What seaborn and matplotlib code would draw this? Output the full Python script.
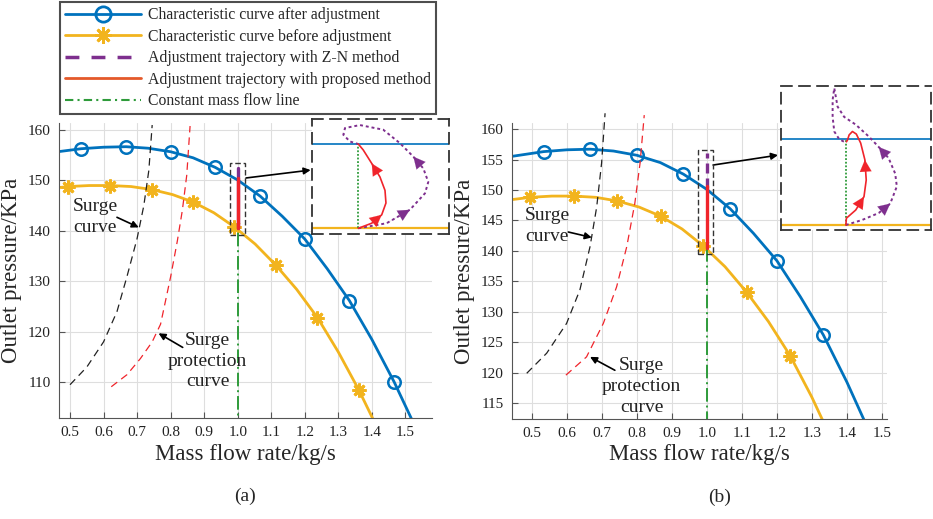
import matplotlib.pyplot as plt
import seaborn as sns
from matplotlib.lines import Line2D
from matplotlib.patches import Rectangle

# Characteristic curves (same in both panels)
flow_after = [0.440, 0.533, 0.600, 0.667, 0.733, 0.800, 0.867, 0.933, 1.000, 1.067, 1.133, 1.200, 1.267, 1.333, 1.400, 1.467, 1.520]
pres_after = [155.5, 156.3, 156.6, 156.7, 156.4, 155.7, 154.5, 152.6, 150.1, 146.9, 142.9, 138.4, 132.5, 126.2, 118.5, 110.0, 102.5]
flow_before = [0.440, 0.495, 0.557, 0.620, 0.682, 0.744, 0.806, 0.868, 0.929, 0.990, 1.052, 1.114, 1.176, 1.238, 1.300, 1.361, 1.410]
pres_before = [148.4, 148.8, 149.0, 149.0, 148.8, 148.2, 147.2, 145.7, 143.6, 140.8, 137.4, 133.2, 128.4, 122.8, 116.0, 108.5, 101.8]

# Surge / surge protection curves
surge_a_x = [0.500, 0.550, 0.600, 0.640, 0.670, 0.700, 0.720, 0.735, 0.745]
surge_a_y = [109.5, 113.0, 118.0, 124.0, 131.0, 138.5, 145.0, 152.0, 161.0]
protect_a_x = [0.623, 0.670, 0.710, 0.745, 0.770, 0.800, 0.820, 0.835, 0.848, 0.858]
protect_a_y = [109.1, 111.5, 114.7, 118.0, 121.5, 130.9, 138.0, 144.1, 151.0, 160.8]
surge_b_x = [0.485, 0.542, 0.599, 0.637, 0.666, 0.685, 0.699, 0.709]
surge_b_y = [119.9, 123.2, 128.1, 133.6, 140.7, 147.2, 154.4, 162.6]
protect_b_x = [0.597, 0.656, 0.704, 0.742, 0.771, 0.794, 0.809, 0.821]
protect_b_y = [119.6, 122.6, 128.1, 134.1, 140.7, 147.8, 154.4, 162.3]

# Constant mass flow and adjustment trajectories
const_flow = [1.0, 1.0]
const_flow_y = [100.0, 140.5]
zn_a_y = [140.5, 152.5]
prop_a_y = [140.5, 150.4]
zn_b_y = [150.4, 156.0]
prop_b_y = [140.5, 150.6]

# Zoomed-in trajectories (inset units: 0 = before curve, 1 = after curve)
ins_a_red_x = [0.338, 0.436, 0.509, 0.540, 0.533, 0.496, 0.436, 0.374, 0.338]
ins_a_red_y = [0.0, 0.06, 0.16, 0.30, 0.45, 0.61, 0.77, 0.93, 1.0]
ins_a_pur_x = [0.338, 0.545, 0.715, 0.825, 0.849, 0.813, 0.740, 0.642, 0.520, 0.350, 0.241, 0.229, 0.277, 0.338]
ins_a_pur_y = [0.0, 0.06, 0.22, 0.415, 0.55, 0.71, 0.85, 1.01, 1.17, 1.225, 1.19, 1.11, 1.03, 1.0]
ins_b_red_x = [0.432, 0.436, 0.498, 0.553, 0.568, 0.559, 0.531, 0.502, 0.476, 0.454, 0.443, 0.436]
ins_b_red_y = [0.0, 0.08, 0.175, 0.33, 0.525, 0.76, 0.955, 1.06, 1.09, 1.05, 0.99, 0.97]
ins_b_pur_x = [0.432, 0.542, 0.651, 0.728, 0.772, 0.761, 0.717, 0.651, 0.586, 0.498, 0.421, 0.377, 0.355,
               0.344, 0.344, 0.355, 0.388, 0.421, 0.432]
ins_b_pur_y = [0.0, 0.06, 0.14, 0.25, 0.45, 0.60, 0.78, 0.91, 1.03, 1.17, 1.26, 1.38, 1.595,
               1.46, 1.26, 1.09, 1.0, 0.97, 0.99]

xtick_vals = [0.5, 0.6, 0.7, 0.8, 0.9, 1.0, 1.1, 1.2, 1.3, 1.4, 1.5]
xtick_labels = ['0.5', '0.6', '0.7', '0.8', '0.9', '1.0', '1.1', '1.2', '1.3', '1.4', '1.5']
ytick_a = [110, 120, 130, 140, 150, 160]
ytick_b = [115, 120, 125, 130, 135, 140, 145, 150, 155, 160]

BLUE = '#0072BD'
YELLOW = '#F2B41E'
PURPLE = '#7E2F8E'
RED = '#F0242B'
ORANGE = '#E4592A'
GREEN = '#2E9B3A'
DARK = '#333333'

sns.set_style('whitegrid', {'grid.color': '#dedede', 'axes.edgecolor': '#555555'})
plt.rcParams['font.family'] = ['Liberation Serif', 'DejaVu Serif']

fig = plt.figure(figsize=(9.33, 5.19), dpi=100)
ax_a = fig.add_axes([0.0632, 0.1946, 0.400, 0.5684])
ax_b = fig.add_axes([0.5488, 0.1927, 0.4019, 0.5703])


def line(ax, x, y, **kw):
    sns.lineplot(x=x, y=y, ax=ax, estimator=None, sort=False, legend=False, **kw)


def draw_panel(ax, surge_x, surge_y, prot_x, prot_y, zn_y, prop_y, zn_dash, box, xlim, ylim, yticks):
    line(ax, flow_after, pres_after, color=BLUE, lw=2, marker='o', markevery=slice(1, None, 2),
         markersize=9, markerfacecolor='none', markeredgecolor=BLUE, markeredgewidth=1.8)
    line(ax, flow_before, pres_before, color=YELLOW, lw=2, marker=(8, 2, 0), markevery=slice(1, None, 2),
         markersize=10, markeredgecolor=YELLOW, markeredgewidth=2)
    line(ax, surge_x, surge_y, color='#222222', lw=0.9, dashes=(6, 4), clip_on=False)
    line(ax, prot_x, prot_y, color=RED, lw=0.9, dashes=(6, 4), clip_on=False)
    line(ax, const_flow, const_flow_y, color=GREEN, lw=1.4, dashes=(7, 2, 1, 2))
    line(ax, const_flow, zn_y, color=PURPLE, lw=2.4, dashes=zn_dash)
    line(ax, const_flow, prop_y, color=RED, lw=2.4)
    ax.add_patch(Rectangle((box[0], box[2]), box[1] - box[0], box[3] - box[2], fill=False,
                           ls=(0, (4, 2)), lw=1, ec=DARK, zorder=5))
    ax.set_xlim(*xlim)
    ax.set_ylim(*ylim)
    ax.set_xticks(xtick_vals)
    ax.set_xticklabels(xtick_labels)
    ax.set_yticks(yticks)
    ax.tick_params(direction='in', length=4, width=0.8, color='#555555', labelsize=11,
                   labelcolor='#222222', bottom=True, left=True, pad=6)
    ax.grid(True, lw=0.8)
    sns.despine(ax=ax)
    ax.set_xlabel('Mass flow rate/kg/s', fontsize=16.5, labelpad=3)
    ax.set_ylabel('Outlet pressure/KPa', fontsize=16.5, labelpad=4)


draw_panel(ax_a, surge_a_x, surge_a_y, protect_a_x, protect_a_y, zn_a_y, prop_a_y, (None, None),
           (0.976, 1.021, 139.2, 153.5), (0.467, 1.58), (102.9, 161.4), ytick_a)
draw_panel(ax_b, surge_b_x, surge_b_y, protect_b_x, protect_b_y, zn_b_y, prop_b_y, (3, 1.5),
           (0.975, 1.018, 139.5, 156.5), (0.443, 1.515), (112.4, 161.0), ytick_b)

arrow_kw = dict(arrowstyle='-|>', color='black', lw=1.2, mutation_scale=10, shrinkA=0, shrinkB=0)
txt_kw = dict(fontsize=14, color='#222222', linespacing=1.3)
# panel (a) labels
ax_a.text(0.509, 142.8, 'Surge\ncurve', ha='left', va='center', **txt_kw)
ax_a.annotate('', xy=(0.705, 140.7), xytext=(0.64, 142.7), arrowprops=arrow_kw)
ax_a.text(0.91, 114.2, 'Surge\nprotection\ncurve', ha='center', va='center', **txt_kw)
ax_a.annotate('', xy=(0.764, 119.7), xytext=(0.836, 116.9), arrowprops=arrow_kw)
# panel (b) labels
ax_b.text(0.48, 144.15, 'Surge\ncurve', ha='left', va='center', **txt_kw)
ax_b.annotate('', xy=(0.671, 142.2), xytext=(0.604, 143.1), arrowprops=arrow_kw)
ax_b.text(0.813, 117.8, 'Surge\nprotection\ncurve', ha='center', va='center', **txt_kw)
ax_b.annotate('', xy=(0.666, 122.6), xytext=(0.737, 120.4), arrowprops=arrow_kw)


def draw_inset(rect, ylim, red_x, red_y, pur_x, pur_y, red_arrows, pur_arrows):
    axi = fig.add_axes(rect)
    axi.set_facecolor('white')
    line(axi, [0, 1], [1, 1], color=BLUE, lw=1.2)
    line(axi, [0, 1], [0, 0], color=YELLOW, lw=1.6)
    line(axi, [red_x[0], red_x[0]], [0, 1], color=GREEN, lw=1.3, dashes=(1, 1))
    line(axi, pur_x, pur_y, color=PURPLE, lw=1.4, dashes=(1.5, 1.5))
    line(axi, red_x, red_y, color=RED, lw=1.2)
    for i in red_arrows:
        axi.annotate('', xy=(red_x[i], red_y[i]), xytext=(red_x[i - 1], red_y[i - 1]),
                     arrowprops=dict(arrowstyle='-|>,head_length=0.7,head_width=0.35', color=RED,
                                     lw=0.1, mutation_scale=12, shrinkA=0, shrinkB=0))
    for i in pur_arrows:
        axi.annotate('', xy=(pur_x[i], pur_y[i]), xytext=(pur_x[i - 1], pur_y[i - 1]),
                     arrowprops=dict(arrowstyle='-|>,head_length=0.7,head_width=0.35', color=PURPLE,
                                     lw=0.1, mutation_scale=12, shrinkA=0, shrinkB=0))
    axi.set_xlim(0, 1)
    axi.set_ylim(*ylim)
    axi.set_xticks([])
    axi.set_yticks([])
    axi.grid(False)
    for sp in axi.spines.values():
        sp.set_visible(True)
        sp.set_linestyle((0, (6, 4)))
        sp.set_color(DARK)
        sp.set_linewidth(1.3)
    return axi


ins_a = draw_inset([0.3344, 0.5491, 0.1468, 0.2216], (-0.068, 1.297),
                   ins_a_red_x, ins_a_red_y, ins_a_pur_x, ins_a_pur_y, [2, 6], [2, 6])
ins_b = draw_inset([0.8371, 0.5568, 0.1608, 0.2775], (-0.058, 1.62),
                   ins_b_red_x, ins_b_red_y, ins_b_pur_x, ins_b_pur_y, [3, 5], [3, 7])

ax_a.annotate('', xy=(-0.01, 0.556), xycoords=ins_a.transAxes, xytext=(1.025, 150.5),
              textcoords='data', arrowprops=arrow_kw, annotation_clip=False)
ax_b.annotate('', xy=(-0.02, 0.52), xycoords=ins_b.transAxes, xytext=(1.018, 154.1),
              textcoords='data', arrowprops=arrow_kw, annotation_clip=False)

# legend
handles = [
    Line2D([], [], color=BLUE, lw=2, marker='o', markersize=11, markerfacecolor='none', markeredgewidth=2),
    Line2D([], [], color=YELLOW, lw=2, marker=(8, 2, 0), markersize=12, markeredgewidth=2),
    Line2D([], [], color=PURPLE, lw=2.5, dashes=(4, 3.5)),
    Line2D([], [], color=ORANGE, lw=2),
    Line2D([], [], color=GREEN, lw=1.5, dashes=(4, 2, 1, 2)),
]
labels = ['Characteristic curve after adjustment', 'Characteristic curve before adjustment',
          'Adjustment trajectory with Z-N method', 'Adjustment trajectory with proposed method',
          'Constant mass flow line']
leg = fig.legend(handles, labels, loc='upper left', bbox_to_anchor=(60 / 933, 1 - 2 / 519),
                 frameon=True, fancybox=False, fontsize=11.3, handlelength=4.8, handletextpad=0.45,
                 labelspacing=0.35, borderpad=0.33, borderaxespad=0, numpoints=1)
leg.get_frame().set_edgecolor('#222222')
leg.get_frame().set_linewidth(1.5)

fig.text(0.2626, 0.0443, '(a)', fontsize=14, ha='center', va='center')
fig.text(0.7717, 0.0424, '(b)', fontsize=14, ha='center', va='center')

fig.savefig('out.png', dpi=100)
